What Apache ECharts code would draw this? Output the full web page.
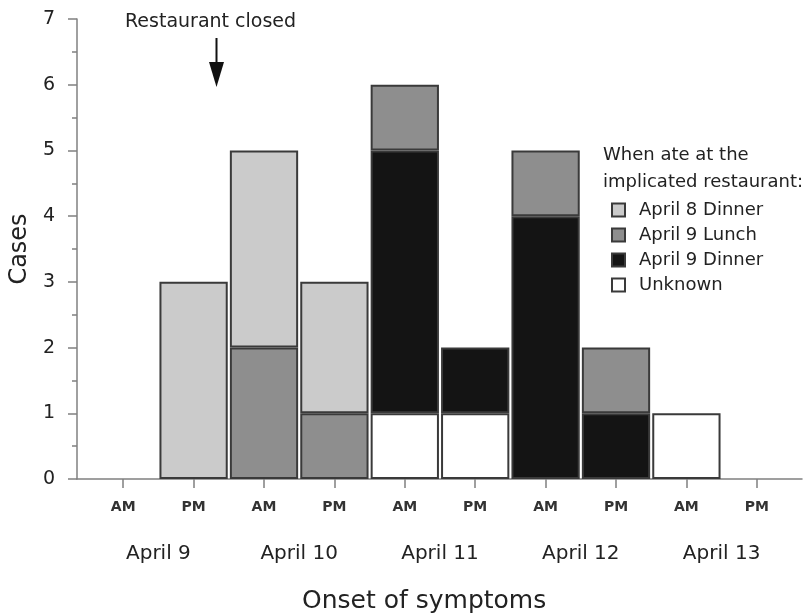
<!DOCTYPE html>
<html>
<head>
<meta charset="utf-8">
<script src="https://cdn.jsdelivr.net/npm/echarts@6/dist/echarts.min.js"></script>
<style>html,body{margin:0;padding:0;background:#fff;}#c{width:810px;height:614px;}</style>
</head>
<body>
<div id="c"></div>
<script>
var slots = ['AM','PM','AM','PM','AM','PM','AM','PM','AM','PM'];
var days = ['April 9','April 10','April 11','April 12','April 13'];
var yTicks = [0,1,2,3,4,5,6,7];
var seriesNames = ['April 8 Dinner','April 9 Lunch','April 9 Dinner','Unknown'];
var apr8Dinner = [0,3,3,2,0,0,0,0,0,0];
var apr9Lunch  = [0,0,2,1,1,0,1,1,0,0];
var apr9Dinner = [0,0,0,0,4,1,4,1,0,0];
var unknown    = [0,0,0,0,1,1,0,0,1,0];

var FONT = 'DejaVu Sans';
var TXT = '#222222';
var AX = '#808080';
function nz(a){ return a.map(function(v){ return v === 0 ? '-' : v; }); }
function bar(name, data, color){
  return {
    name: name, type: 'bar', stack: 'cases', xAxisIndex: 1, yAxisIndex: 1,
    barWidth: '97%', data: nz(data),
    itemStyle: { color: color, borderColor: '#3a3a3a', borderWidth: 2 },
    emphasis: { disabled: true }
  };
}
var chart = echarts.init(document.getElementById('c'));
chart.setOption({
  animation: false,
  backgroundColor: '#fff',
  textStyle: { fontFamily: FONT },
  title: [
    { text: 'Onset of symptoms', left: 302, top: 589, padding: 0,
      textStyle: { fontFamily: FONT, fontSize: 25, fontWeight: 'normal', color: TXT } },
    { text: 'When ate at the\nimplicated restaurant:', left: 603, top: 142, padding: 0,
      textStyle: { fontFamily: FONT, fontSize: 18, fontWeight: 'normal', color: TXT, lineHeight: 27 } }
  ],
  legend: {
    data: seriesNames, orient: 'vertical', left: 611, top: 201, padding: 0,
    icon: 'rect', itemWidth: 13, itemHeight: 13, itemGap: 7,
    selectedMode: false,
    textStyle: { fontFamily: FONT, fontSize: 18, color: TXT, padding: [0,0,0,9] }
  },
  grid: [
    { left: 77, right: 8, top: 19, bottom: 135 },
    { left: 88, right: 18, top: 19, bottom: 135 }
  ],
  xAxis: [
    { gridIndex: 0, type: 'value', min: 0, max: 1,
      axisLine: { show: true, lineStyle: { color: AX, width: 1.5 } },
      axisTick: { show: false }, axisLabel: { show: false }, splitLine: { show: false } },
    { gridIndex: 1, type: 'category', data: slots, position: 'bottom',
      axisLine: { show: false },
      axisTick: { show: true, alignWithLabel: true, length: 9, lineStyle: { color: AX, width: 1.5 } },
      axisLabel: { fontFamily: FONT, fontSize: 14, fontWeight: 'bold', color: '#333', margin: 21 } },
    { gridIndex: 1, type: 'category', data: days, position: 'bottom',
      axisLine: { show: false }, axisTick: { show: false },
      axisLabel: { fontFamily: FONT, fontSize: 20, color: TXT, margin: 65 } }
  ],
  yAxis: [
    { gridIndex: 0, type: 'value', min: yTicks[0], max: yTicks[yTicks.length-1], interval: 1,
      name: 'Cases', nameLocation: 'middle', nameGap: 39,
      nameTextStyle: { fontFamily: FONT, fontSize: 24, color: TXT },
      axisLine: { show: true, lineStyle: { color: AX, width: 1.5 } },
      axisTick: { show: true, length: 9, lineStyle: { color: AX, width: 1.5 } },
      minorTick: { show: true, splitNumber: 2, length: 5, lineStyle: { color: AX, width: 1.5 } },
      axisLabel: { fontFamily: FONT, fontSize: 19, color: TXT, margin: 22 },
      splitLine: { show: false } },
    { gridIndex: 1, type: 'value', min: 0, max: 7, show: false }
  ],
  graphic: [
    { type: 'text', left: 125, top: 13,
      style: { text: 'Restaurant closed', fontFamily: FONT, fontSize: 19, fill: TXT } },
    { type: 'line', shape: { x1: 216.5, y1: 38, x2: 216.5, y2: 66 },
      style: { stroke: '#111', lineWidth: 2 } },
    { type: 'polygon', shape: { points: [[209, 62], [224, 62], [216.5, 87]] },
      style: { fill: '#111' } }
  ],
  series: [
    bar(seriesNames[3], unknown, '#ffffff'),
    bar(seriesNames[2], apr9Dinner, '#141414'),
    bar(seriesNames[1], apr9Lunch, '#8e8e8e'),
    bar(seriesNames[0], apr8Dinner, '#cbcbcb')
  ]
});
</script>
</body>
</html>
